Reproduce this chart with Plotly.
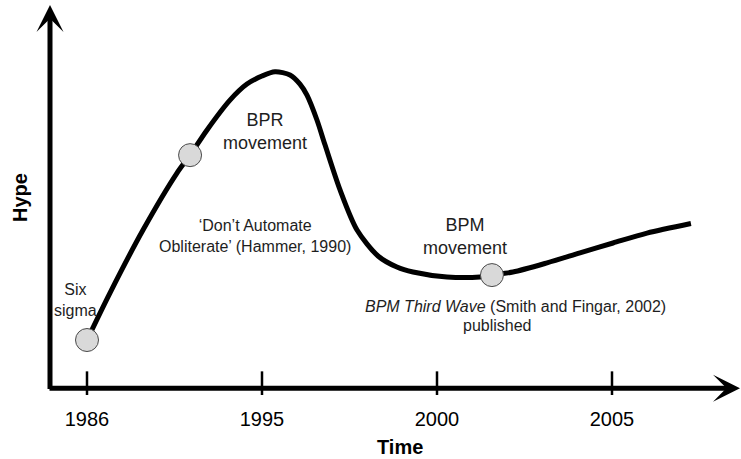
import plotly.graph_objects as go

# ---------------- data ----------------
# x is the position along the (non-linear) time axis: 0 = 1986, 1 = 1995, 2 = 2000, 3 = 2005
tick_positions = [0, 1, 2, 3]
tick_labels = ["1986", "1995", "2000", "2005"]

curve_x = [0.0, 0.131, 0.32, 0.514, 0.589, 0.686, 0.817, 0.914,
           1.0, 1.074, 1.16, 1.217, 1.257, 1.314, 1.36, 1.446, 1.543, 1.663, 1.771,
           1.863, 2.057, 2.246, 2.314, 2.434, 2.629, 2.817, 3.006, 3.2, 3.451]
curve_hype = [12.3, 24.6, 41.1, 56.0, 60.7, 67.3, 75.1, 79.3,
              81.4, 82.5, 81.7, 79.3, 76.4, 69.9, 63.4, 51.6, 41.1, 34.3, 31.4,
              30.1, 28.8, 28.8, 29.3, 30.1, 32.5, 35.1, 37.7, 40.3, 42.8]

event_x = [0.0, 0.589, 2.314]
event_hype = [12.3, 60.7, 29.3]

label_texts = [
    "Six<br>sigma",
    "BPR<br>movement",
    "\u2018Don\u2019t Automate<br>Obliterate\u2019 (Hammer, 1990)",
    "BPM<br>movement",
    "<i>BPM Third Wave</i> (Smith and Fingar, 2002)",
    "published",
]

# ---------------- figure ----------------
FONT = "Liberation Sans, Arial, Helvetica, sans-serif"
TXT = "#1e1e1e"

X_RANGE = [-0.26857, 3.73714]
Y_RANGE = [-2.094, 101.31]

fig = go.Figure()

# hype curve
fig.add_trace(go.Scatter(
    x=curve_x, y=curve_hype, mode="lines",
    line=dict(color="black", width=5, shape="spline", smoothing=0.8),
    hoverinfo="skip", showlegend=False))

# tick crosses on the time axis
fig.add_trace(go.Scatter(
    x=tick_positions, y=[-0.3] * len(tick_positions), mode="markers",
    marker=dict(symbol="line-ns", size=24, line=dict(color="black", width=2.5)),
    hoverinfo="skip", showlegend=False))

# event markers
fig.add_trace(go.Scatter(
    x=event_x, y=event_hype, mode="markers",
    marker=dict(size=23, color="#d9d9d9", line=dict(color="#4a4a4a", width=1)),
    hoverinfo="skip", showlegend=False))

annotations = []
# axis arrows
axis_x0 = -0.2114
annotations.append(dict(x=3.7314, y=-0.3, ax=-0.2229, ay=-0.3, xref="x", yref="y",
                        axref="x", ayref="y", text="", showarrow=True, arrowhead=3,
                        arrowwidth=5, arrowsize=0.9, arrowcolor="black"))
annotations.append(dict(x=axis_x0, y=100.0, ax=axis_x0, ay=-0.9, xref="x", yref="y",
                        axref="x", ayref="y", text="", showarrow=True, arrowhead=3,
                        arrowwidth=5, arrowsize=0.9, arrowcolor="black"))

label_pos = [(-0.063, 22.8, 16), (1.017, 67.0, 18), (0.96, 39.5, 16),
             (2.16, 39.3, 18), (2.446, 21.2, 16), (2.343, 16.2, 16)]
for txt, (lx, ly, fs) in zip(label_texts, label_pos):
    annotations.append(dict(x=lx, y=ly, xref="x", yref="y", text=txt, showarrow=False,
                            font=dict(family=FONT, size=fs, color=TXT),
                            xanchor="center", yanchor="middle", align="center"))

# axis titles (placed in pixels, converted to paper coords)
L, T, W, H = 40, 0, 701, 395
annotations.append(dict(x=(400 - L) / W, y=1 - (447 - T) / H, xref="paper", yref="paper",
                        text="<b>Time</b>", showarrow=False,
                        xanchor="center", yanchor="middle",
                        font=dict(family=FONT, size=20, color="black")))
annotations.append(dict(x=(20 - L) / W, y=1 - (198 - T) / H, xref="paper", yref="paper",
                        text="<b>Hype</b>", textangle=-90, showarrow=False,
                        xanchor="center", yanchor="middle",
                        font=dict(family=FONT, size=20, color="black")))

fig.update_layout(
    width=741, height=459,
    margin=dict(l=40, r=0, t=0, b=64),
    paper_bgcolor="white", plot_bgcolor="white",
    font=dict(family=FONT, color="black"),
    xaxis=dict(range=X_RANGE, tickvals=tick_positions, ticktext=tick_labels,
               tickfont=dict(family=FONT, size=20, color="black"),
               ticks="outside", ticklen=6, tickcolor="rgba(0,0,0,0)",
               showgrid=False, zeroline=False, showline=False, fixedrange=True),
    yaxis=dict(range=Y_RANGE, showticklabels=False, ticks="", showgrid=False,
               zeroline=False, showline=False, fixedrange=True),
    annotations=annotations,
    showlegend=False,
)

fig.write_html("out.html", config={"displayModeBar": False},
               post_script="document.body.style.margin='0px';document.body.style.overflow='hidden';")
